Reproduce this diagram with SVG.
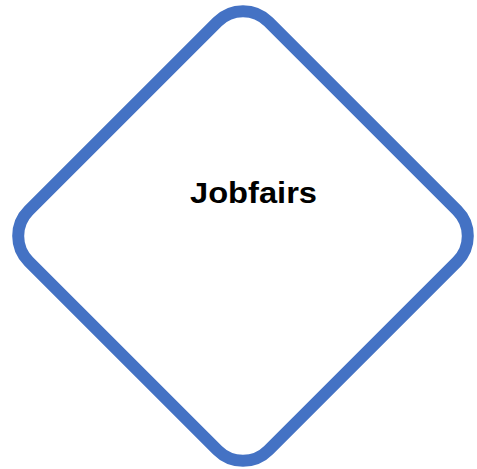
<svg xmlns="http://www.w3.org/2000/svg" width="477" height="469" viewBox="0 0 477 469">
<style>
.shape{fill:#FFFFFF;stroke:#4472C4;stroke-width:12}
.label{font-family:"Liberation Sans",Arial,sans-serif;font-weight:bold;font-size:29px;fill:#000000}
</style>
<rect width="477" height="469" fill="#FFFFFF"/>
<g id="node-jobfairs">
<rect class="shape" x="-169.5" y="-169.5" width="339" height="339" rx="36" ry="36" transform="translate(243 236) rotate(45)"/>
<text class="label" x="253.5" y="203" text-anchor="middle" textLength="127" lengthAdjust="spacingAndGlyphs">Jobfairs</text>
</g>
<g id="connectors"></g>
</svg>
